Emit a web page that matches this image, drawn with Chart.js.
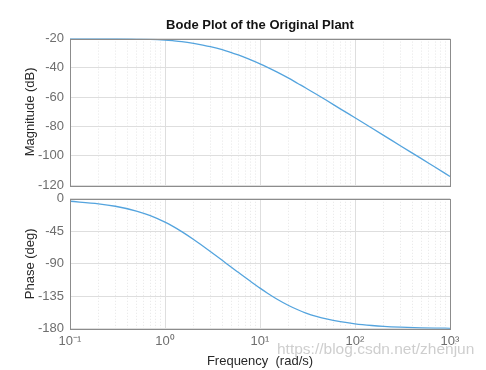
<!DOCTYPE html>
<html>
<head>
<meta charset="utf-8">
<script src="https://cdn.jsdelivr.net/npm/chart.js@4/dist/chart.umd.min.js"></script>
<style>
  body { margin: 0; background: #fff; }
  #wrap { position: relative; width: 486px; height: 370px; overflow: hidden; }
  #magBox { position: absolute; left: 0; top: 0; width: 486px; height: 199px; }
  #phaseBox { position: absolute; left: 0; top: 185px; width: 486px; height: 185px; }
  #mark { position: absolute; left: 277px; top: 340px; font: 15.5px "Liberation Sans", Arial, sans-serif;
          color: rgba(190,190,190,0.75); white-space: nowrap; }
</style>
</head>
<body>
<div id="wrap">
  <div id="magBox"><canvas id="magChart"></canvas></div>
  <div id="phaseBox"><canvas id="phaseChart"></canvas></div>
  <div id="mark">https://blog.csdn.net/zhenjun</div>
</div>
<script>
'use strict';

// frequency points (rad/s)
var freq = [0.1, 0.2, 0.3, 0.5, 0.7, 1, 1.2, 1.5, 2, 2.5, 3, 4, 5, 6, 7, 8, 10, 12, 15, 20, 25, 30, 40, 50, 70,
            100, 150, 200, 300, 500, 700, 1000];
var magDb = [-20.0, -20.1, -20.1, -20.3, -20.5, -21.0, -21.4, -22.0, -23.2, -24.4, -25.5, -27.6, -29.6, -31.3,
             -33.0, -34.5, -37.2, -39.6, -42.7, -47.0, -50.6, -53.5, -58.3, -62.1, -67.9,
             -74.0, -81.0, -86.0, -93.1, -101.9, -107.8, -114.0];
var phaseDeg = [-3.4, -6.9, -10.3, -16.9, -23.3, -32.3, -37.8, -45.4, -56.3, -65.4, -73.0, -85.2, -94.8, -102.5,
                -109.0, -114.6, -123.7, -130.7, -138.7, -147.7, -153.6, -157.8, -163.1, -166.4, -170.2,
                -173.1, -175.4, -176.6, -177.7, -178.6, -179.0, -179.3];

var decades = [0.1, 1, 10, 100, 1000];
var decadeLabels = ['10\u207B\u00B9', '10\u2070', '10\u00B9', '10\u00B2', '10\u00B3'];
var magTicks = [-120, -100, -80, -60, -40, -20];
var phaseTicks = [-180, -135, -90, -45, 0];

var fontFam = '"Liberation Sans", Arial, Helvetica, sans-serif';
var lineColor = 'rgb(84,164,222)';

// grid positions: every 1..9 inside each decade
var gridVals = [];
decades.forEach(function (d, i) {
    if (i === decades.length - 1) { gridVals.push(d); return; }
    for (var k = 1; k < 10; k++) gridVals.push(+(d * k).toPrecision(3));
});

function isDecade(v) {
    return decades.some(function (d) { return Math.abs(d - v) < d * 1e-6; });
}

// grey box round the plot area, like the MATLAB axes
var boxPlugin = {
    id: 'box',
    afterDraw: function (chart) {
        var a = chart.chartArea, ctx = chart.ctx;
        ctx.save();
        ctx.strokeStyle = 'rgb(140,140,140)';
        ctx.lineWidth = 1;
        ctx.strokeRect(Math.round(a.left) + 0.5, Math.round(a.top) + 0.5,
                       Math.round(a.right - a.left), Math.round(a.bottom - a.top));
        ctx.restore();
    }
};

function xAxis(showLabels) {
    var ax = {
        type: 'logarithmic',
        min: 0.1,
        max: 1000,
        afterBuildTicks: function (scale) {
            scale.ticks = gridVals.map(function (v) { return { value: v, major: isDecade(v) }; });
        },
        ticks: {
            display: showLabels,
            autoSkip: false,
            maxRotation: 0,
            padding: 4.5,
            color: 'rgb(110,110,110)',
            font: { family: fontFam, size: 13 },
            callback: function (v) {
                var i = decades.findIndex(function (d) { return Math.abs(d - v) < d * 1e-6; });
                return i >= 0 ? decadeLabels[i] : '';
            }
        },
        grid: {
            drawTicks: false,
            color: function (c) {
                return c.tick && isDecade(c.tick.value) ? 'rgb(222,222,222)' : 'rgb(230,230,230)';
            }
        },
        border: {
            display: false,
            dash: function (c) {
                return c.tick && !isDecade(c.tick.value) ? [1, 2] : [];
            }
        },
        title: {
            display: showLabels,
            text: 'Frequency  (rad/s)',
            color: 'rgb(40,40,40)',
            font: { family: fontFam, size: 13 },
            padding: { top: 0, bottom: 0 }
        }
    };
    if (!showLabels) {
        ax.afterFit = function (scale) { scale.height = 0; };
    }
    return ax;
}

function yAxis(lo, hi, ticks, label) {
    return {
        min: lo,
        max: hi,
        afterBuildTicks: function (scale) {
            scale.ticks = ticks.map(function (v) { return { value: v }; });
        },
        afterFit: function (scale) { scale.width = 47; },
        ticks: {
            padding: 6,
            color: 'rgb(110,110,110)',
            font: { family: fontFam, size: 13 }
        },
        grid: { drawTicks: false, color: 'rgb(222,222,222)' },
        border: { display: false },
        title: {
            display: true,
            text: label,
            color: 'rgb(40,40,40)',
            font: { family: fontFam, size: 13 },
            padding: { top: 0, bottom: 0 }
        }
    };
}

function makeData(vals) {
    return {
        labels: freq,
        datasets: [{
            data: freq.map(function (f, i) { return { x: f, y: vals[i] }; }),
            borderColor: lineColor,
            borderWidth: 1.3,
            pointRadius: 0,
            cubicInterpolationMode: 'monotone',
            fill: false
        }]
    };
}

new Chart(document.getElementById('magChart'), {
    type: 'line',
    data: makeData(magDb),
    options: {
        responsive: true,
        maintainAspectRatio: false,
        animation: false,
        layout: { padding: { left: 23, right: 36, top: 0, bottom: 5 } },
        plugins: {
            legend: { display: false },
            tooltip: { enabled: false },
            title: {
                display: true,
                fullSize: false,
                text: 'Bode Plot of the Original Plant',
                color: 'rgb(20,20,20)',
                font: { family: fontFam, size: 13, weight: 'bold' },
                padding: { top: 18, bottom: 5 }
            }
        },
        scales: {
            x: xAxis(false),
            y: yAxis(-120, -20, magTicks, 'Magnitude (dB)')
        }
    },
    plugins: [boxPlugin]
});

new Chart(document.getElementById('phaseChart'), {
    type: 'line',
    data: makeData(phaseDeg),
    options: {
        responsive: true,
        maintainAspectRatio: false,
        animation: false,
        layout: { padding: { left: 23, right: 36, top: 5, bottom: 1 } },
        plugins: {
            legend: { display: false },
            tooltip: { enabled: false }
        },
        scales: {
            x: xAxis(true),
            y: yAxis(-180, 0, phaseTicks, 'Phase (deg)')
        }
    },
    plugins: [boxPlugin]
});
</script>
</body>
</html>
